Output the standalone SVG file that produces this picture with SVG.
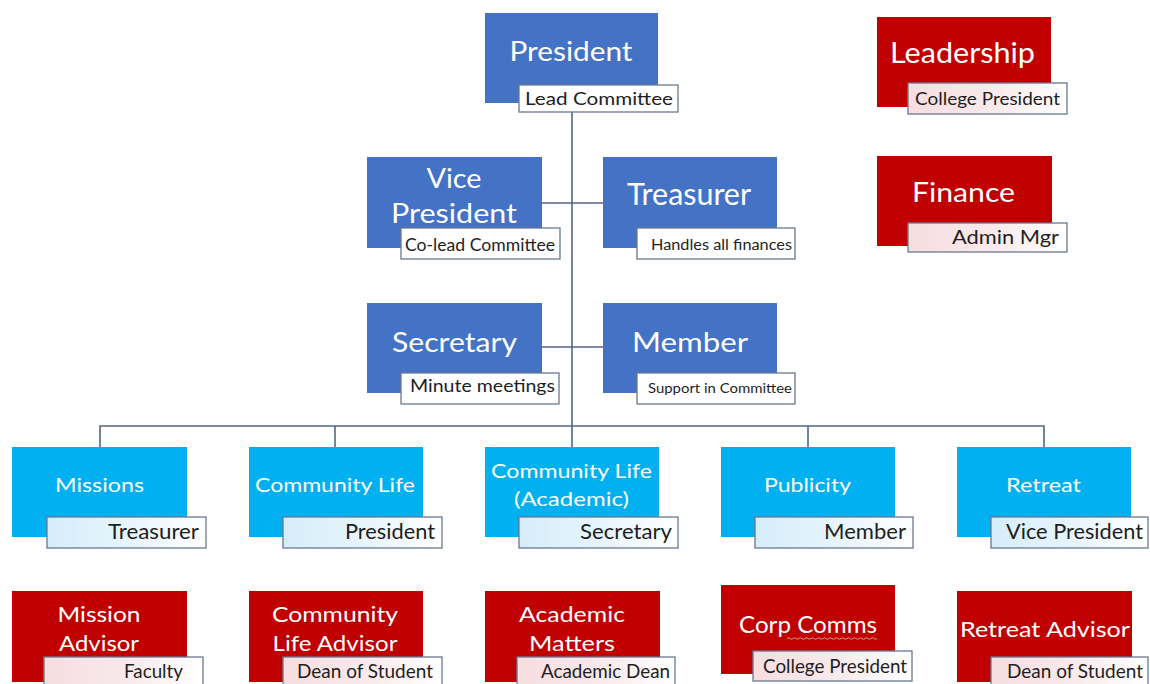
<svg xmlns="http://www.w3.org/2000/svg" width="1150" height="684" viewBox="0 0 1150 684">
<style>
.blue{fill:#4472C4}
.cyan{fill:#00B0F0}
.red{fill:#C00000}
.lb{stroke:#6A7893;stroke-width:1.3}
.lw{fill:#FFFFFF}
.lc{fill:url(#gc)}
.lr{fill:url(#gr)}
.t{font-family:Lato,"Open Sans","Liberation Sans",sans-serif;fill:#FFFFFF;text-anchor:middle}
.s{font-family:Lato,"Open Sans","Liberation Sans",sans-serif;fill:#1E1E1E}
.m{text-anchor:middle}
.e{text-anchor:end}
.cn{stroke:#56657F;stroke-width:1.6;fill:none}
</style>
<defs>
<linearGradient id="gc" x1="0" y1="0" x2="1" y2="0">
<stop offset="0" stop-color="#D6EDFA"/>
<stop offset="0.55" stop-color="#E8F5FC"/>
<stop offset="1" stop-color="#FFFFFF"/>
</linearGradient>
<linearGradient id="gr" x1="0" y1="0" x2="1" y2="0">
<stop offset="0" stop-color="#F6DDE0"/>
<stop offset="0.55" stop-color="#F9EAEC"/>
<stop offset="1" stop-color="#FFFFFF"/>
</linearGradient>
</defs>
<rect width="1150" height="684" fill="#FFFFFF"/>

<g id="connectors">
<path class="cn" d="M572,112 V447"/>
<path class="cn" d="M542,203 H603"/>
<path class="cn" d="M542,347 H603"/>
<path class="cn" d="M100,447 V426 H1044 V447"/>
<path class="cn" d="M335,426 V447"/>
<path class="cn" d="M808,426 V447"/>
</g>

<g id="president">
<rect class="blue" x="485" y="13" width="173" height="90"/>
<rect class="lb lw" x="519" y="85" width="159" height="27"/>
<text class="t" x="571" y="61" font-size="27" textLength="123" lengthAdjust="spacingAndGlyphs">President</text>
<text class="s m" x="599" y="105" font-size="17" textLength="148" lengthAdjust="spacingAndGlyphs">Lead Committee</text>
</g>

<g id="vice-president">
<rect class="blue" x="367" y="157" width="175" height="91"/>
<rect class="lb lw" x="401" y="228" width="159" height="31"/>
<text class="t" x="454" y="188" font-size="27" textLength="55" lengthAdjust="spacingAndGlyphs">Vice</text>
<text class="t" x="454" y="223" font-size="27" textLength="126" lengthAdjust="spacingAndGlyphs">President</text>
<text class="s m" x="480" y="251" font-size="17" textLength="150" lengthAdjust="spacingAndGlyphs">Co-lead Committee</text>
</g>

<g id="treasurer">
<rect class="blue" x="603" y="157" width="174" height="91"/>
<rect class="lb lw" x="637" y="228" width="158" height="31"/>
<text class="t" x="689" y="205" font-size="30" textLength="124" lengthAdjust="spacingAndGlyphs">Treasurer</text>
<text class="s m" x="721.5" y="250" font-size="14.5" textLength="141" lengthAdjust="spacingAndGlyphs">Handles all finances</text>
</g>

<g id="secretary">
<rect class="blue" x="367" y="303" width="175" height="90"/>
<rect class="lb lw" x="401" y="373" width="158" height="31"/>
<text class="t" x="454.5" y="352" font-size="27" textLength="125" lengthAdjust="spacingAndGlyphs">Secretary</text>
<text class="s m" x="482.5" y="392" font-size="17" textLength="145" lengthAdjust="spacingAndGlyphs">Minute meetings</text>
</g>

<g id="member">
<rect class="blue" x="603" y="303" width="174" height="90"/>
<rect class="lb lw" x="637" y="373" width="158" height="31"/>
<text class="t" x="690" y="352" font-size="27" textLength="116" lengthAdjust="spacingAndGlyphs">Member</text>
<text class="s m" x="720" y="393" font-size="14" textLength="144" lengthAdjust="spacingAndGlyphs">Support in Committee</text>
</g>

<g id="missions">
<rect class="cyan" x="12" y="447" width="175" height="90"/>
<rect class="lb lc" x="47" y="517" width="159" height="31"/>
<text class="t" x="99.5" y="492" font-size="20" textLength="89" lengthAdjust="spacingAndGlyphs">Missions</text>
<text class="s e" x="199" y="539" font-size="21" textLength="91" lengthAdjust="spacingAndGlyphs">Treasurer</text>
</g>

<g id="community-life">
<rect class="cyan" x="249" y="447" width="174" height="90"/>
<rect class="lb lc" x="283" y="517" width="159" height="31"/>
<text class="t" x="335" y="492" font-size="20" textLength="160" lengthAdjust="spacingAndGlyphs">Community Life</text>
<text class="s e" x="435" y="539" font-size="21" textLength="90" lengthAdjust="spacingAndGlyphs">President</text>
</g>

<g id="community-life-academic">
<rect class="cyan" x="485" y="447" width="174" height="90"/>
<rect class="lb lc" x="519" y="517" width="159" height="31"/>
<text class="t" x="571.5" y="478" font-size="20" textLength="161" lengthAdjust="spacingAndGlyphs">Community Life</text>
<text class="t" x="571.5" y="506" font-size="20" textLength="115" lengthAdjust="spacingAndGlyphs">(Academic)</text>
<text class="s e" x="672" y="539" font-size="21" textLength="92" lengthAdjust="spacingAndGlyphs">Secretary</text>
</g>

<g id="publicity">
<rect class="cyan" x="721" y="447" width="174" height="90"/>
<rect class="lb lc" x="755" y="517" width="158" height="31"/>
<text class="t" x="807.5" y="492" font-size="20" textLength="87" lengthAdjust="spacingAndGlyphs">Publicity</text>
<text class="s e" x="906" y="539" font-size="21" textLength="82" lengthAdjust="spacingAndGlyphs">Member</text>
</g>

<g id="retreat">
<rect class="cyan" x="957" y="447" width="174" height="90"/>
<rect class="lb lc" x="991" y="517" width="157" height="31"/>
<text class="t" x="1043.5" y="492" font-size="20" textLength="75" lengthAdjust="spacingAndGlyphs">Retreat</text>
<text class="s e" x="1143" y="539" font-size="21" textLength="137" lengthAdjust="spacingAndGlyphs">Vice President</text>
</g>

<g id="mission-advisor">
<rect class="red" x="12" y="591" width="175" height="91"/>
<rect class="lb lr" x="44" y="657" width="159" height="32"/>
<text class="t" x="99" y="622" font-size="22" textLength="83" lengthAdjust="spacingAndGlyphs">Mission</text>
<text class="t" x="99" y="651" font-size="22" textLength="80" lengthAdjust="spacingAndGlyphs">Advisor</text>
<text class="s e" x="183" y="678" font-size="19" textLength="59" lengthAdjust="spacingAndGlyphs">Faculty</text>
</g>

<g id="community-life-advisor">
<rect class="red" x="249" y="591" width="174" height="91"/>
<rect class="lb lr" x="283" y="657" width="159" height="32"/>
<text class="t" x="335" y="622" font-size="22" textLength="126" lengthAdjust="spacingAndGlyphs">Community</text>
<text class="t" x="335" y="651" font-size="22" textLength="125" lengthAdjust="spacingAndGlyphs">Life Advisor</text>
<text class="s e" x="433" y="678" font-size="19" textLength="136" lengthAdjust="spacingAndGlyphs">Dean of Student</text>
</g>

<g id="academic-matters">
<rect class="red" x="485" y="591" width="175" height="91"/>
<rect class="lb lr" x="517" y="657" width="158" height="32"/>
<text class="t" x="572" y="622" font-size="22" textLength="106" lengthAdjust="spacingAndGlyphs">Academic</text>
<text class="t" x="572" y="651" font-size="22" textLength="86" lengthAdjust="spacingAndGlyphs">Matters</text>
<text class="s e" x="670" y="678" font-size="19" textLength="129" lengthAdjust="spacingAndGlyphs">Academic Dean</text>
</g>

<g id="corp-comms">
<rect class="red" x="721" y="585" width="174" height="89"/>
<rect class="lb lr" x="753" y="651" width="159" height="30"/>
<text class="t" x="808" y="633" font-size="23" textLength="138" lengthAdjust="spacingAndGlyphs">Corp Comms</text>
<path d="M787,638.5 q1.5,-1.5 3,0 t3,0 t3,0 t3,0 t3,0 t3,0 t3,0 t3,0 t3,0 t3,0 t3,0 t3,0 t3,0 t3,0 t3,0 t3,0 t3,0 t3,0 t3,0 t3,0 t3,0 t3,0 t3,0 t3,0 t3,0 t3,0 t3,0 t3,0 t3,0 t3,0" fill="none" stroke="#E9A3A3" stroke-width="0.9"/>
<text class="s e" x="907" y="673" font-size="19" textLength="144" lengthAdjust="spacingAndGlyphs">College President</text>
</g>

<g id="retreat-advisor">
<rect class="red" x="957" y="591" width="175" height="91"/>
<rect class="lb lr" x="991" y="657" width="157" height="32"/>
<text class="t" x="1045" y="637" font-size="22" textLength="170" lengthAdjust="spacingAndGlyphs">Retreat Advisor</text>
<text class="s e" x="1143" y="678" font-size="19" textLength="136" lengthAdjust="spacingAndGlyphs">Dean of Student</text>
</g>

<g id="leadership">
<rect class="red" x="877" y="17" width="174" height="90"/>
<rect class="lb lr" x="908" y="83" width="159" height="31"/>
<text class="t" x="962.5" y="63" font-size="28" textLength="145" lengthAdjust="spacingAndGlyphs">Leadership</text>
<text class="s e" x="1060" y="105" font-size="17" textLength="145" lengthAdjust="spacingAndGlyphs">College President</text>
</g>

<g id="finance">
<rect class="red" x="877" y="156" width="175" height="90"/>
<rect class="lb lr" x="908" y="223" width="159" height="29"/>
<text class="t" x="963.5" y="202" font-size="26" textLength="103" lengthAdjust="spacingAndGlyphs">Finance</text>
<text class="s e" x="1059" y="244" font-size="20" textLength="107" lengthAdjust="spacingAndGlyphs">Admin Mgr</text>
</g>
</svg>
